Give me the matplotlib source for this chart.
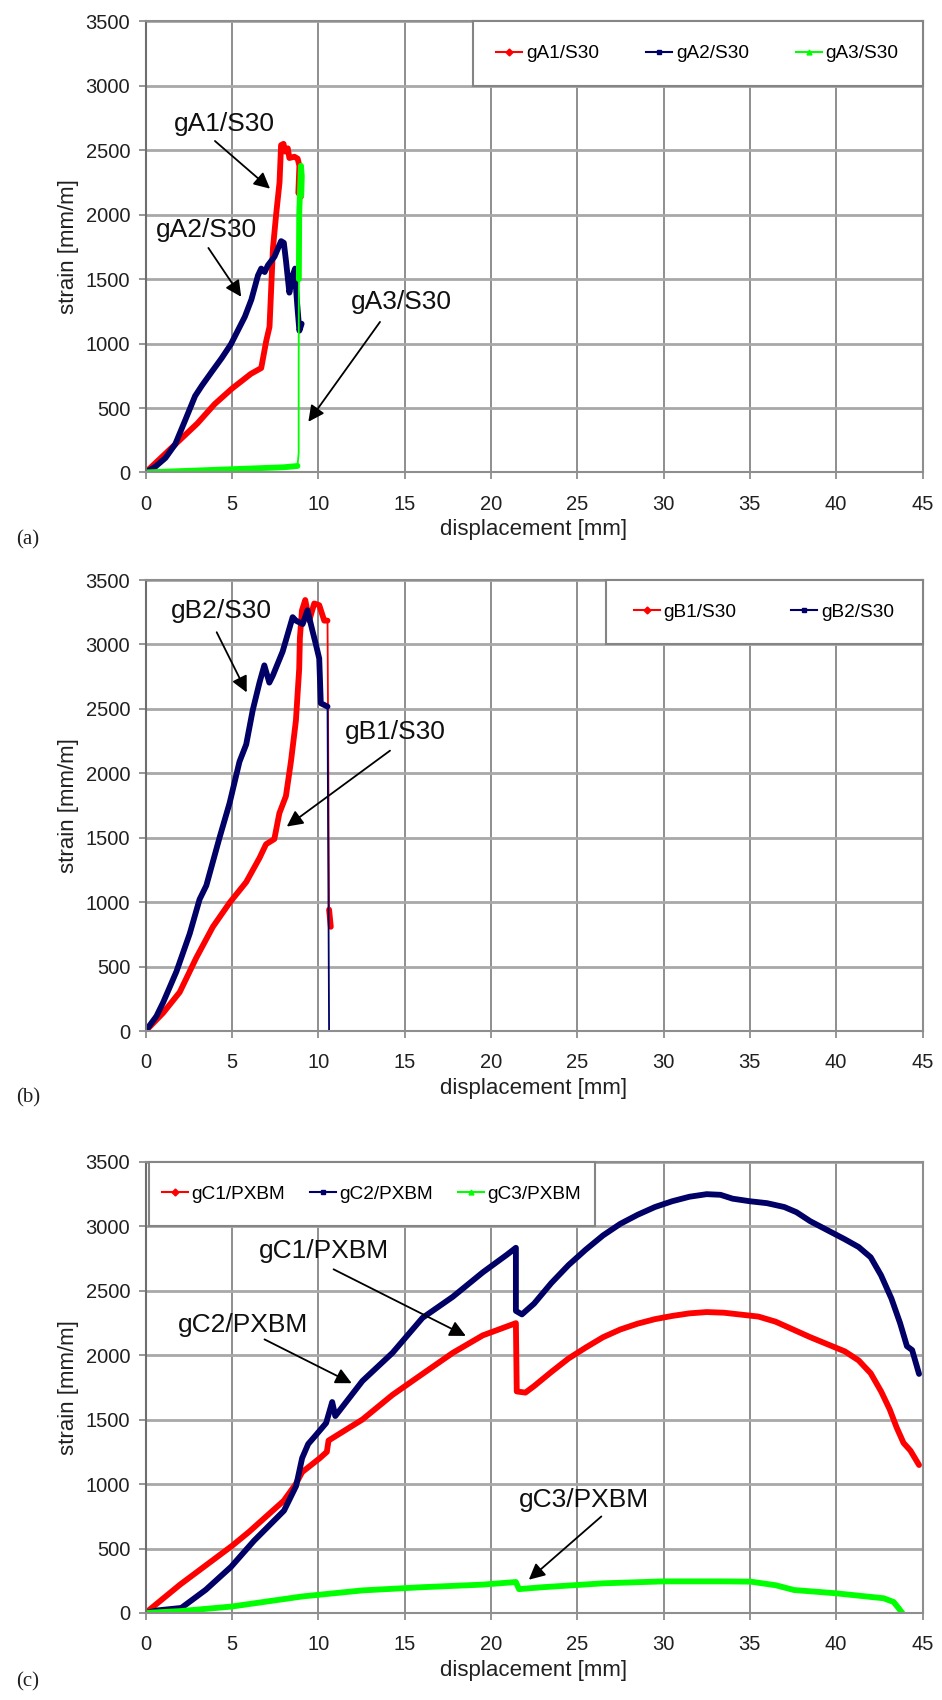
import matplotlib
matplotlib.use('Agg')
import matplotlib.pyplot as plt
from matplotlib.lines import Line2D
from matplotlib.patches import Rectangle

plt.rcParams['font.family'] = ['Liberation Sans', 'DejaVu Sans']

RED = '#ff0000'
NAVY = '#000066'
GREEN = '#00ff00'

# ---- panel (a) ----
a1_x = [0, 1.5, 3.0, 4.0, 5.0, 6.1, 6.7, 6.99, 7.18, 7.38, 7.57, 7.76, 7.85, 7.99, 8.08, 8.24,
        8.33, 8.62, 8.81, 8.91, 8.85, 9.0]
a1_y = [0, 190, 380, 530, 650, 765, 810, 1020, 1130, 1740, 2010, 2250, 2540, 2550, 2490, 2515,
        2440, 2450, 2435, 2380, 2170, 2140]
a2_x = [0, 0.57, 1.15, 1.72, 2.30, 2.87, 3.26, 3.83, 4.41, 4.94, 5.75, 6.13, 6.51, 6.70, 6.90,
        7.09, 7.47, 7.85, 8.01, 8.14, 8.33, 8.52, 8.66, 8.72, 8.81, 8.91, 9.04]
a2_y = [0, 45, 112, 219, 406, 593, 673, 780, 887, 994, 1208, 1341, 1528, 1582, 1555,
        1608, 1675, 1795, 1782, 1635, 1395, 1528, 1582, 1421, 1261, 1100, 1154]
a3_x = [0, 2, 4, 6, 8, 8.8, 8.87, 8.87, 8.88, 8.9, 8.95, 9.0, 9.05, 9.02]
a3_y = [0, 10, 20, 30, 40, 50, 150, 800, 1500, 2000, 2200, 2380, 2300, 2150]

# ---- panel (b) ----
b1_x = [0, 1.02, 1.98, 2.94, 3.90, 4.87, 5.83, 6.60, 6.98, 7.46, 7.75, 8.13, 8.42, 8.71, 8.81,
        8.90, 8.94, 9.06, 9.25, 9.48, 9.77, 10.06, 10.35, 10.54, 10.63, 10.73]
b1_y = [0, 141, 302, 569, 809, 996, 1156, 1343, 1450, 1490, 1690, 1823, 2090, 2410, 2624,
        2811, 3051, 3265, 3345, 3185, 3318, 3305, 3185, 3185, 942, 809]
b2_x = [0, 0.63, 1.02, 1.79, 2.56, 3.13, 3.52, 4.29, 4.87, 5.44, 5.83, 6.21, 6.60, 6.88, 7.17,
        7.37, 7.94, 8.52, 8.71, 9.10, 9.38, 9.67, 9.87, 10.06, 10.15, 10.54, 10.63]
b2_y = [0, 115, 222, 462, 756, 1022, 1129, 1503, 1770, 2090, 2224, 2491, 2704, 2838, 2704,
        2758, 2945, 3212, 3185, 3158, 3265, 3105, 2998, 2891, 2544, 2518, 0]

# ---- panel (c) ----
c1_x = [0, 1, 2, 3, 4, 5, 6, 7, 8, 8.7, 9.07, 10.1, 10.5, 10.6, 12.56, 14.3, 16.04, 17.79,
        19.53, 21.45, 21.5, 22.0, 22.5, 23.5, 24.5, 25.5, 26.5, 27.5, 28.5, 29.5, 30.5, 31.5,
        32.5, 33.5, 34.5, 35.5, 36.5, 37.5, 38.5, 39.5, 40.5, 41.3, 42.0, 42.6, 43.1, 43.5,
        43.9, 44.3, 44.8]
c1_y = [0, 110, 220, 320, 420, 520, 630, 750, 870, 1000, 1093, 1202, 1250, 1338, 1501, 1692,
        1855, 2018, 2154, 2249, 1719, 1710, 1760, 1870, 1975, 2060, 2140, 2200, 2245, 2280,
        2305, 2325, 2335, 2330, 2315, 2300, 2260, 2200, 2140, 2085, 2030, 1960, 1860, 1720,
        1580, 1440, 1320, 1260, 1148]
c2_x = [0, 0.7, 2.07, 3.49, 4.96, 6.28, 8.02, 8.72, 9.07, 9.42, 9.77, 10.46, 10.81, 10.99,
        12.56, 14.30, 16.04, 17.79, 19.53, 20.93, 21.45, 21.45, 21.8, 22.5, 23.5, 24.5, 25.5,
        26.5, 27.5, 28.5, 29.5, 30.5, 31.5, 32.5, 33.3, 34.0, 35.0, 36.0, 37.0, 37.7, 38.5,
        39.5, 40.5, 41.3, 42.0, 42.6, 43.2, 43.7, 44.1, 44.4, 44.8]
c2_y = [0, 20, 39, 180, 359, 560, 794, 985, 1202, 1311, 1365, 1474, 1637, 1528, 1800, 2018,
        2290, 2453, 2643, 2780, 2834, 2344, 2317, 2400, 2560, 2700, 2820, 2930, 3020, 3090,
        3150, 3195, 3230, 3250, 3245, 3215, 3195, 3180, 3150, 3110, 3040, 2970, 2900, 2840,
        2760, 2620, 2440, 2250, 2070, 2040, 1855]
c3_x = [0, 2.09, 5.0, 9.07, 12.56, 16.04, 19.53, 21.45, 21.63, 23.02, 26.51, 30.0, 33.48,
        35.05, 36.5, 37.56, 39.96, 42.75, 43.33, 43.6, 43.83]
c3_y = [0, 15, 50, 128, 175, 200, 220, 240, 185, 200, 230, 245, 245, 243, 215, 178, 153, 114,
        85, 40, 0]

x_ticks = list(range(0, 46, 5))
y_ticks = list(range(0, 3501, 500))

fig = plt.figure(figsize=(9.42, 17.0), dpi=100)
LEFT, WIDTH, HEIGHT = 0.1545, 0.8248, 0.2653
ax_a = fig.add_axes([LEFT, 0.7221, WIDTH, HEIGHT])
ax_b = fig.add_axes([LEFT, 0.3935, WIDTH, HEIGHT])
ax_c = fig.add_axes([LEFT, 0.0512, WIDTH, HEIGHT])


def setup(ax):
    ax.set_xlim(0, 45)
    ax.set_ylim(0, 3500)
    ax.set_xticks(x_ticks)
    ax.set_yticks(y_ticks)
    ax.set_axisbelow(True)
    ax.grid(True, axis='y', color='#a8a8a8', lw=2.0)
    ax.grid(True, axis='x', color='#8e8e8e', lw=1.4)
    for s in ax.spines.values():
        s.set_color('#8e8e8e')
        s.set_linewidth(1.5)
    ax.spines['left'].set_color('#6e6e6e')
    ax.tick_params(axis='both', direction='out', length=5, width=1.3, color='#8e8e8e',
                   labelsize=14.5, labelcolor='#202020')
    ax.tick_params(axis='x', pad=11)
    ax.tick_params(axis='y', pad=6)
    ax.set_xlabel('displacement [mm]', fontsize=16, color='#202020', labelpad=4)
    ax.set_ylabel('strain [mm/m]', fontsize=16, color='#202020', labelpad=5)


def curve(ax, x, y, color, thick=None):
    # thin line through every point, thick where the record is dense
    ax.plot(x, y, color=color, lw=1.3, zorder=2)
    for a, b in (thick or [(0, len(x))]):
        ax.plot(x[a:b], y[a:b], color=color, lw=4.2, solid_joinstyle='round',
                solid_capstyle='round', zorder=2)


def legend_box(ax, labels, colors, markers, x0, w, pad):
    y0 = 3000 / 3500
    ax.add_patch(Rectangle((x0, y0), w, 1 - y0, transform=ax.transAxes, facecolor='white',
                           edgecolor='#858585', lw=1.5, zorder=3, clip_on=False))
    handles = [Line2D([], [], color=c, lw=1.5, marker=m, ms=3.5, markerfacecolor=c,
                      markeredgecolor=c) for c, m in zip(colors, markers)]
    ax.legend(handles, labels, ncol=len(labels), loc='center', mode='expand',
              bbox_to_anchor=(x0, y0, w, 1 - y0), borderaxespad=0, borderpad=pad,
              frameon=False, fontsize=13.7, handlelength=1.35, handletextpad=0.2)


def note(ax, text, txy, tail, head):
    ax.text(txy[0], txy[1], text, fontsize=19, ha='center', va='center', color='#101010',
            zorder=4)
    ax.annotate('', xy=head, xytext=tail,
                arrowprops=dict(arrowstyle='-|>', color='black', lw=1.3, mutation_scale=24,
                                shrinkA=0, shrinkB=0), zorder=4)


for ax in (ax_a, ax_b, ax_c):
    setup(ax)

# (a)
curve(ax_a, a1_x, a1_y, RED)
curve(ax_a, a2_x, a2_y, NAVY)
curve(ax_a, a3_x, a3_y, GREEN, thick=[(0, 6), (8, len(a3_x))])
legend_box(ax_a, ['gA1/S30', 'gA2/S30', 'gA3/S30'], [RED, NAVY, GREEN], ['D', 's', '^'],
           0.421, 0.579, 1.25)
note(ax_a, 'gA1/S30', (4.55, 2704), (4.02, 2572), (7.21, 2202))
note(ax_a, 'gA2/S30', (3.54, 1882), (3.64, 1742), (5.54, 1363))
note(ax_a, 'gA3/S30', (14.83, 1321), (13.58, 1168), (9.43, 393))

# (b)
curve(ax_b, b1_x, b1_y, RED, thick=[(0, 24), (24, len(b1_x))])
curve(ax_b, b2_x, b2_y, NAVY, thick=[(0, 26)])
legend_box(ax_b, ['gB1/S30', 'gB2/S30'], [RED, NAVY], ['D', 's'], 0.592, 0.408, 1.5)
note(ax_b, 'gB2/S30', (4.42, 3257), (4.12, 3095), (5.86, 2628))
note(ax_b, 'gB1/S30', (14.49, 2322), (14.16, 2176), (8.18, 1587))

# (c)
curve(ax_c, c1_x, c1_y, RED)
curve(ax_c, c2_x, c2_y, NAVY)
curve(ax_c, c3_x, c3_y, GREEN)
legend_box(ax_c, ['gC1/PXBM', 'gC2/PXBM', 'gC3/PXBM'], [RED, NAVY, GREEN], ['D', 's', '^'],
           0.004, 0.574, 0.7)
note(ax_c, 'gC1/PXBM', (10.36, 2809), (10.89, 2667), (18.55, 2150))
note(ax_c, 'gC2/PXBM', (5.67, 2237), (6.89, 2123), (11.94, 1783))
note(ax_c, 'gC3/PXBM', (25.4, 877), (26.4, 749), (22.2, 258))

for label, ypix in (('(a)', 540), ('(b)', 1098), ('(c)', 1682)):
    fig.text(28 / 942, 1 - ypix / 1700, label, fontsize=15, ha='center', va='center',
             family=['Liberation Serif', 'DejaVu Serif'], color='#202020')

fig.savefig('out.png', dpi=100)
